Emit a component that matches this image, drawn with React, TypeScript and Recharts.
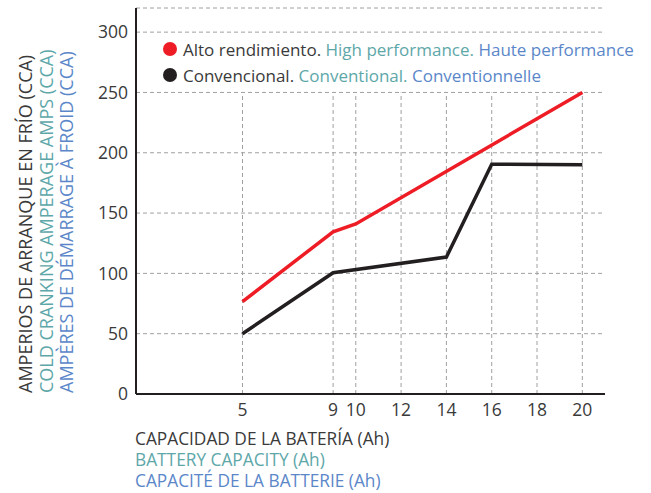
import React from 'react';
import { LineChart, Line, XAxis, YAxis, CartesianGrid, ReferenceLine, Customized } from 'recharts';

const xTicks = [5, 9, 10, 12, 14, 16, 18, 20];
const yTicks = [0, 50, 100, 150, 200, 250, 300];

const highCapacity = [5, 9, 10, 20];
const highValues = [76.5, 134.5, 141, 250];

const convCapacity = [5, 9, 14, 16, 20];
const convValues = [50, 100.5, 113.5, 190.5, 190];

const seriesNames = [
  ['Alto rendimiento.', 'High performance.', 'Haute performance'],
  ['Convencional.', 'Conventional.', 'Conventionnelle'],
];
const seriesColors = ['#ee1c25', '#231f20'];

const yTitle = ['AMPERIOS DE ARRANQUE EN FRÍO (CCA)', 'COLD CRANKING AMPERAGE AMPS (CCA)', 'AMPÈRES DE DÉMARRAGE À FROID (CCA)'];
const xTitle = ['CAPACIDAD DE LA BATERÍA (Ah)', 'BATTERY CAPACITY (Ah)', 'CAPACITÉ DE LA BATTERIE (Ah)'];
const langColors = ['#3a3a3a', '#5ea7a9', '#5b87c9'];

const FONT = '"Open Sans", sans-serif';

const highData = highCapacity.map((x, i) => ({ x, v: highValues[i] }));
const convData = convCapacity.map((x, i) => ({ x, v: convValues[i] }));

const Annotations = () => (
  <g fontFamily={FONT}>
    {seriesNames.map((names, i) => (
      <g key={i}>
        <circle cx={170} cy={49 + i * 26} r={7} fill={seriesColors[i]} />
        <text x={183} y={55.5 + i * 26} fontSize={17}>
          {names.map((n, j) => (
            <tspan key={j} fill={langColors[j]}>{(j > 0 ? ' ' : '') + n}</tspan>
          ))}
        </text>
      </g>
    ))}
    {yTitle.map((t, i) => (
      <text key={i} transform={`translate(${32 + i * 20.7},393) rotate(-90)`} x={0} y={0} fontSize={18} fill={langColors[i]} textAnchor="start">
        {t}
      </text>
    ))}
    {xTitle.map((t, i) => (
      <text key={i} x={135} y={445 + i * 21} fontSize={17.3} fill={langColors[i]}>
        {t}
      </text>
    ))}
  </g>
);

export default function App() {
  return (
    <div style={{ width: 651, height: 493 }}>
      <style>{`body{margin:0}`}</style>
      <LineChart width={651} height={493} margin={{ top: 8, right: 46, bottom: 69, left: 0 }}>
        <CartesianGrid vertical={false} stroke="#a0a0a0" strokeDasharray="4 3" />
        {xTicks.map((t) => (
          <ReferenceLine key={t} segment={[{ x: t, y: 0 }, { x: t, y: 250 }]} stroke="#a0a0a0" strokeDasharray="4 3" ifOverflow="visible" />
        ))}
        <XAxis
          type="number"
          dataKey="x"
          domain={[0.3, 21]}
          ticks={xTicks}
          interval={0}
          allowDataOverflow
          tickLine={false}
          axisLine={{ stroke: '#231f20', strokeWidth: 2 }}
          tick={{ fill: '#3a3a3a', fontSize: 17.5, fontFamily: FONT }}
          tickMargin={4}
          height={30}
        />
        <YAxis
          type="number"
          domain={[0, 320]}
          ticks={yTicks}
          interval={0}
          allowDataOverflow
          tickLine={false}
          axisLine={{ stroke: '#231f20', strokeWidth: 2 }}
          tick={{ fill: '#3a3a3a', fontSize: 17.5, fontFamily: FONT }}
          width={136}
        />
        <Line data={highData} dataKey="v" type="linear" stroke={seriesColors[0]} strokeWidth={3.5} dot={false} isAnimationActive={false} />
        <Line data={convData} dataKey="v" type="linear" stroke={seriesColors[1]} strokeWidth={3.5} dot={false} isAnimationActive={false} />
        <Customized component={Annotations} />
      </LineChart>
    </div>
  );
}
